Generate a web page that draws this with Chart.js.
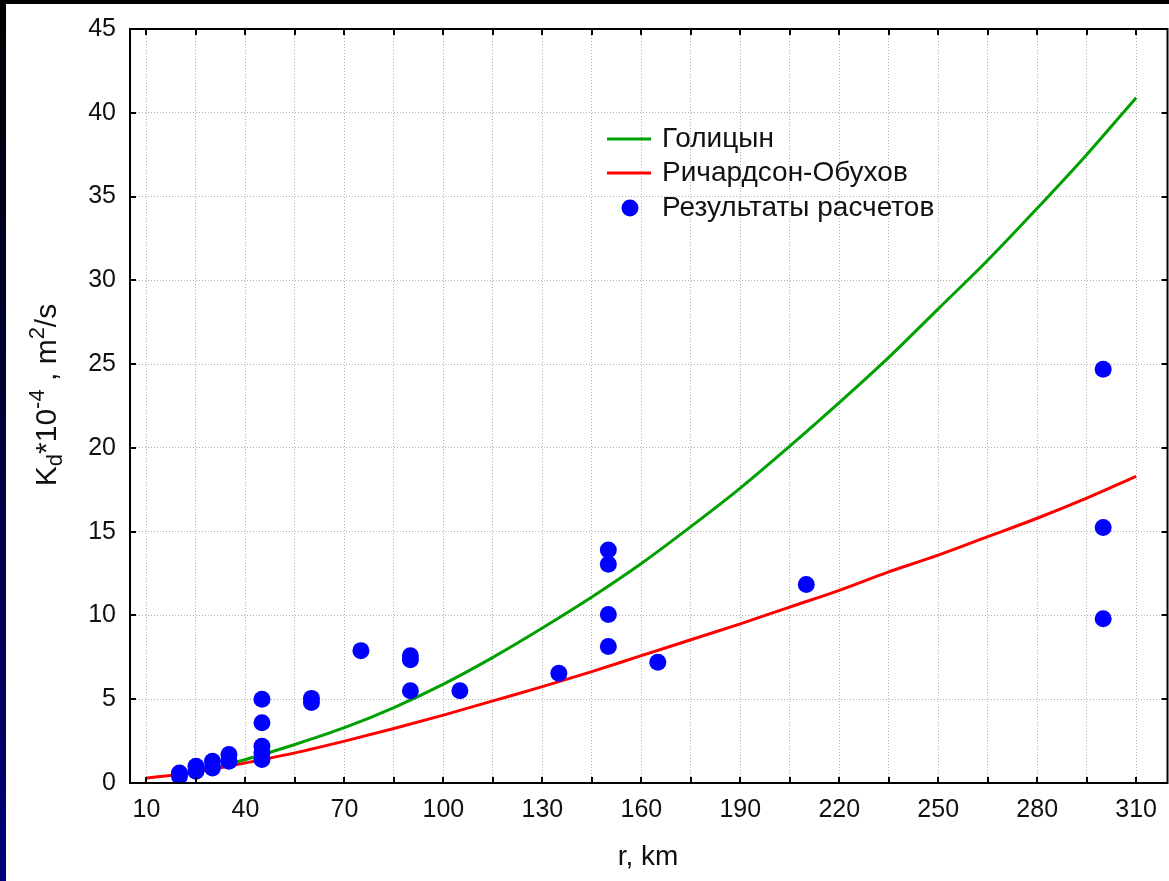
<!DOCTYPE html>
<html><head><meta charset="utf-8">
<script src="https://cdn.jsdelivr.net/npm/chart.js@4/dist/chart.umd.min.js"></script>
<style>html,body{margin:0;padding:0;background:#fff;overflow:hidden;width:1169px;height:881px}canvas{display:block}</style>
</head><body>
<canvas id="c" width="1176" height="881"></canvas>
<script>
// ---- data ----
const xTickValues = [10,25,40,55,70,85,100,115,130,145,160,175,190,205,220,235,250,265,280,295,310];
const xTickLabels = [10,40,70,100,130,160,190,220,250,280,310];
const yTickLabels = [0,5,10,15,20,25,30,35,40,45];

const golitsynR = [25,40,55,70,85,100,115,130,145,160,175,190,205,220,235,250,265,280,295,310];
const golitsynK = [0.6,1.4,2.3,3.3,4.5,5.9,7.5,9.25,11.1,13.1,15.3,17.6,20.1,22.7,25.4,28.3,31.2,34.3,37.5,40.9];

const richR = [10,25,40,55,70,85,100,115,130,145,160,175,190,205,220,235,250,265,280,295,310];
const richK = [0.3,0.65,1.2,1.8,2.5,3.25,4.05,4.9,5.75,6.65,7.6,8.55,9.5,10.5,11.5,12.6,13.6,14.7,15.8,17.0,18.3];

const resultR = [20,20,25,25,30,30,35,35,45,45,45,45,45,60,60,75,90,90,90,105,135,150,150,150,150,165,210,300,300,300];
const resultK = [0.6,0.4,1.0,0.7,1.3,0.9,1.7,1.3,5.0,3.6,2.2,1.8,1.4,5.05,4.8,7.9,7.6,7.35,5.5,5.5,6.55,13.9,13.05,10.05,8.15,7.2,11.85,24.7,15.25,9.8];

const seriesNames = ['Голицын','Ричардсон-Обухов','Результаты расчетов'];
const xTitle = 'r, km';

const FONT = '"Liberation Sans", Arial, sans-serif';
const GREEN = '#00a000', RED = '#ff0000', BLUE = '#0000ff';

const zip = (xs, ys) => xs.map((x, i) => ({x, y: ys[i]}));

const bgPlugin = {
  id: 'bg',
  beforeDraw(chart) {
    const ctx = chart.ctx, w = chart.width, h = chart.height;
    ctx.save();
    ctx.fillStyle = '#ffffff';
    ctx.fillRect(0, 0, w, h);
    const g = ctx.createLinearGradient(0, 0, 0, h);
    g.addColorStop(0, '#000000');
    g.addColorStop(1, '#00007a');
    ctx.fillStyle = g;
    ctx.fillRect(0, 0, 6, h);
    ctx.fillStyle = '#000000';
    ctx.fillRect(0, 0, w, 4);
    ctx.restore();
  }
};

const framePlugin = {
  id: 'frame',
  afterDraw(chart) {
    const ctx = chart.ctx, a = chart.chartArea;
    const xs = chart.scales.x, ys = chart.scales.y;
    ctx.save();
    ctx.setLineDash([]);
    ctx.strokeStyle = '#000';
    ctx.lineWidth = 2;
    ctx.strokeRect(a.left, a.top, a.right - a.left, a.bottom - a.top);
    const tl = 6;
    ctx.beginPath();
    xTickValues.forEach(v => {
      const px = Math.round(xs.getPixelForValue(v));
      ctx.moveTo(px, a.bottom); ctx.lineTo(px, a.bottom - tl);
      ctx.moveTo(px, a.top); ctx.lineTo(px, a.top + tl);
    });
    yTickLabels.forEach(v => {
      const py = Math.round(ys.getPixelForValue(v));
      ctx.moveTo(a.left, py); ctx.lineTo(a.left + tl, py);
      ctx.moveTo(a.right, py); ctx.lineTo(a.right - tl, py);
    });
    ctx.stroke();

    // legend
    const lx = 607, lTxt = 662, rows = [139, 173, 208];
    ctx.lineWidth = 3;
    ctx.strokeStyle = GREEN;
    ctx.beginPath(); ctx.moveTo(lx, rows[0]); ctx.lineTo(lx + 44, rows[0]); ctx.stroke();
    ctx.strokeStyle = RED;
    ctx.beginPath(); ctx.moveTo(lx, rows[1]); ctx.lineTo(lx + 44, rows[1]); ctx.stroke();
    ctx.fillStyle = BLUE;
    ctx.beginPath(); ctx.arc(630, rows[2], 8.5, 0, Math.PI * 2); ctx.fill();
    ctx.fillStyle = '#111';
    ctx.font = '28px ' + FONT;
    ctx.textBaseline = 'middle';
    ctx.textAlign = 'left';
    seriesNames.forEach((n, i) => ctx.fillText(n, lTxt, rows[i]));

    // x title
    ctx.textAlign = 'center';
    ctx.font = '28px ' + FONT;
    ctx.fillText(xTitle, 648, 857);

    // y title with sub/superscripts
    const parts = [
      {t: 'K', f: 30, dy: 0},
      {t: 'd', f: 22, dy: 6},
      {t: '*10', f: 30, dy: 0},
      {t: '-4', f: 22, dy: -12},
      {t: ' , m', f: 30, dy: 0},
      {t: '2', f: 22, dy: -12},
      {t: '/s', f: 30, dy: 0}
    ];
    let total = 0;
    parts.forEach(p => { ctx.font = p.f + 'px ' + FONT; p.w = ctx.measureText(p.t).width; total += p.w; });
    ctx.translate(56, 395);
    ctx.rotate(-Math.PI / 2);
    ctx.textAlign = 'left';
    ctx.textBaseline = 'alphabetic';
    let cx = -total / 2;
    parts.forEach(p => {
      ctx.font = p.f + 'px ' + FONT;
      ctx.fillText(p.t, cx, p.dy);
      cx += p.w;
    });
    ctx.restore();
  }
};

new Chart(document.getElementById('c'), {
  type: 'scatter',
  data: {
    datasets: [
      {label: seriesNames[2], type: 'scatter', data: zip(resultR, resultK), backgroundColor: BLUE, borderColor: BLUE, pointRadius: 8.5, pointHoverRadius: 8.5, borderWidth: 0, order: 0},
      {label: seriesNames[1], type: 'line', data: zip(richR, richK), borderColor: RED, borderWidth: 3, pointRadius: 0, fill: false, tension: 0.3, cubicInterpolationMode: 'monotone', order: 1},
      {label: seriesNames[0], type: 'line', data: zip(golitsynR, golitsynK), borderColor: GREEN, borderWidth: 3, pointRadius: 0, fill: false, tension: 0.3, cubicInterpolationMode: 'monotone', order: 2}
    ]
  },
  options: {
    responsive: false,
    animation: false,
    devicePixelRatio: 1,
    layout: {padding: {top: 28, right: 0, left: 0, bottom: 0}},
    plugins: {legend: {display: false}, tooltip: {enabled: false}},
    scales: {
      x: {
        type: 'linear', min: 5, max: 319.5,
        afterBuildTicks: s => { s.ticks = xTickValues.map(v => ({value: v})); },
        afterFit: s => { s.height = 98; s.paddingRight = 0; },
        ticks: {
          autoSkip: false, maxRotation: 0, padding: 12,
          color: '#111', font: {size: 25, family: FONT},
          callback: v => xTickLabels.includes(v) ? String(v) : ''
        },
        grid: {color: '#b0b0b0', lineWidth: 1, drawTicks: false},
        border: {display: false, dash: [1, 2]}
      },
      y: {
        min: 0, max: 45,
        afterBuildTicks: s => { s.ticks = yTickLabels.map(v => ({value: v})); },
        afterFit: s => { s.width = 130; },
        ticks: {
          padding: 14, color: '#111', font: {size: 25, family: FONT},
          callback: v => String(v)
        },
        grid: {color: '#b0b0b0', lineWidth: 1, drawTicks: false},
        border: {display: false, dash: [1, 2]}
      }
    }
  },
  plugins: [bgPlugin, framePlugin]
});
</script>
</body></html>
